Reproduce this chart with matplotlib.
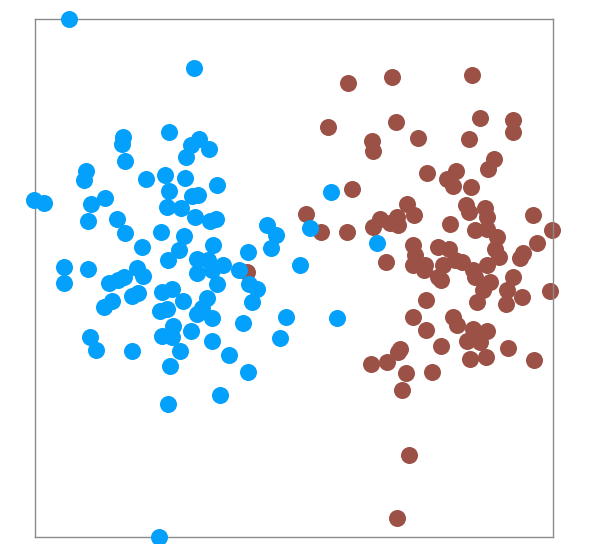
import matplotlib
matplotlib.use("Agg")
import matplotlib.pyplot as plt

# Blue cluster (x, y) in chart units
blue_x = [34, 159, 134, 88, 87, 90, 51, 49, 111, 130, 150, 134, 157, 163, -1, 9, 56, 70,
          132, 146, 160, 53, 82, 90, 126, 149, 107, 144, 133, 162, 151, 156, 164, 174,
          182, 175, 181, 178, 173, 188, 232, 241, 236, 213, 265, 275, 29, 29, 53, 74,
          89, 102, 108, 83, 69, 77, 97, 103, 127, 137, 148, 125, 132, 162, 162, 138,
          127, 137, 156, 145, 135, 55, 61, 97, 133, 177, 177, 204, 214, 222, 217, 182,
          172, 167, 177, 208, 251, 245, 194, 213, 185, 124, 296, 342, 302]
blue_y = [518, 469, 405, 400, 393, 376, 366, 357, 358, 362, 359, 346, 341, 342, 337, 334,
          333, 339, 330, 329, 320, 316, 318, 304, 305, 301, 290, 287, 277, 278, 380, 392,
          398, 388, 352, 316, 318, 292, 277, 272, 312, 302, 289, 285, 272, 309, 270, 254,
          268, 254, 260, 269, 261, 257, 230, 236, 241, 244, 245, 248, 236, 226, 228, 264,
          223, 211, 201, 200, 206, 186, 171, 200, 187, 186, 133, 196, 267, 267, 253, 248,
          235, 253, 239, 229, 219, 214, 220, 199, 182, 165, 142, 0, 345, 294, 219]

# Brown cluster (x, y) in chart units
red_x = [313, 357, 293, 361, 337, 338, 383, 392, 317, 271, 372, 345, 362, 379, 437, 445,
         478, 478, 434, 459, 453, 421, 412, 418, 436, 431, 434, 450, 452, 498, 415, 286,
         355, 363, 378, 380, 378, 389, 351, 312, 391, 378, 391, 365, 363, 338, 517, 440,
         452, 462, 502, 403, 414, 485, 488, 460, 464, 390, 403, 408, 420, 427, 438, 452,
         440, 406, 455, 448, 442, 478, 472, 471, 487, 515, 418, 422, 438, 452, 432, 445,
         406, 473, 336, 352, 435, 451, 499, 371, 397, 367, 374, 362, 212]
red_y = [454, 460, 410, 415, 396, 386, 399, 364, 348, 323, 333, 318, 320, 322, 462, 419,
         417, 405, 398, 378, 368, 366, 358, 351, 350, 332, 325, 329, 320, 322, 313, 305,
         314, 312, 292, 282, 272, 267, 275, 305, 237, 220, 207, 188, 185, 310, 307, 307,
         308, 300, 294, 290, 288, 279, 284, 288, 280, 272, 260, 272, 277, 275, 267, 272,
         260, 257, 255, 247, 235, 260, 247, 233, 240, 246, 220, 212, 208, 206, 196, 195,
         191, 189, 173, 175, 178, 180, 177, 164, 165, 147, 82, 19, 265]

fig = plt.figure(figsize=(5.98, 5.44), dpi=100)
ax = fig.add_axes([35 / 598, 7 / 544, 518 / 598, 518 / 544])
ax.scatter(red_x, red_y, s=150, c="#9c5147", linewidths=0, clip_on=False, zorder=2)
ax.scatter(blue_x, blue_y, s=150, c="#03a0fc", linewidths=0, clip_on=False, zorder=3)
ax.set_xlim(0, 518)
ax.set_ylim(0, 518)
ax.set_xticks([])
ax.set_yticks([])
for sp in ax.spines.values():
    sp.set_color("#8a8a8a")
    sp.set_linewidth(1.0)
fig.savefig("out.png", dpi=100, facecolor="white")
